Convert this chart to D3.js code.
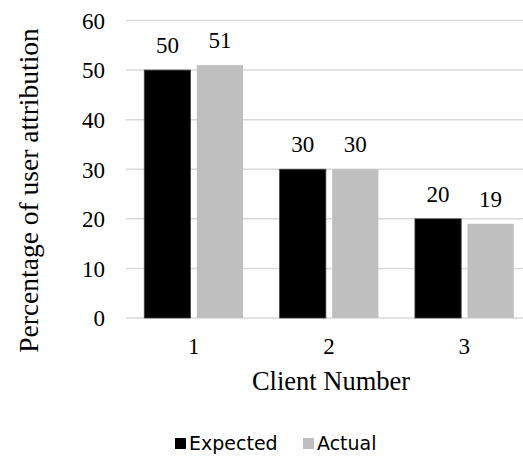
<!DOCTYPE html>
<html>
<head>
<meta charset="utf-8">
<script src="https://cdn.jsdelivr.net/npm/d3@7"></script>
<style>
  html, body { margin: 0; padding: 0; background: #fff; }
  svg { display: block; }
</style>
</head>
<body>
<svg id="chart" width="523" height="466"></svg>
<script>
const clients = ["1", "2", "3"];
const seriesNames = ["Expected", "Actual"];
const expected = [50, 30, 20];
const actual = [51, 30, 19];
const yTicks = [0, 10, 20, 30, 40, 50, 60];
const colors = ["#000000", "#bfbfbf"];

const svg = d3.select("#chart");
const margin = { left: 126, top: 20.5, right: -9, bottom: 148 };
const W = 523, H = 466;
const innerW = W - margin.left - margin.right;
const innerH = H - margin.top - margin.bottom;
const g = svg.append("g").attr("transform", `translate(${margin.left},${margin.top})`);

const x0 = d3.scaleBand().domain(clients).range([0, innerW]).paddingInner(0.27).paddingOuter(0.135);
const x1 = d3.scaleBand().domain(seriesNames).range([0, x0.bandwidth()]).paddingInner(0.12);
const y = d3.scaleLinear().domain([0, 60]).range([innerH, 0]);

const serif = "'Liberation Serif', 'Times New Roman', serif";

// gridlines
g.append("g").selectAll("line").data(yTicks).join("line")
  .attr("x1", 0).attr("x2", innerW)
  .attr("y1", d => y(d)).attr("y2", d => y(d))
  .attr("stroke", "#d9d9d9").attr("stroke-width", 1.5);

// y tick labels
const yAxis = g.append("g").call(d3.axisLeft(y).tickValues(yTicks).tickSize(0).tickPadding(21));
yAxis.select(".domain").remove();
yAxis.selectAll("text").attr("font-family", serif).attr("font-size", 23).attr("fill", "#000")
  .attr("dy", "0.34em");

// x tick labels
const xAxis = g.append("g").attr("transform", `translate(0,${innerH})`)
  .call(d3.axisBottom(x0).tickSize(0).tickPadding(20));
xAxis.select(".domain").remove();
xAxis.selectAll("text").attr("font-family", serif).attr("font-size", 23).attr("fill", "#000");

const rows = clients.map((c, i) => ({ client: c, values: [expected[i], actual[i]] }));

const groups = g.append("g").selectAll("g").data(rows).join("g")
  .attr("transform", d => `translate(${x0(d.client)},0)`);

groups.selectAll("rect").data(d => d.values.map((v, k) => ({ key: seriesNames[k], v, k }))).join("rect")
  .attr("x", d => x1(d.key))
  .attr("y", d => y(d.v))
  .attr("width", x1.bandwidth())
  .attr("height", d => y(0) - y(d.v))
  .attr("fill", d => colors[d.k])
  .attr("stroke", d => d.k === 0 ? "#404040" : "none")
  .attr("stroke-width", 0.8);

groups.selectAll("text").data(d => d.values.map((v, k) => ({ key: seriesNames[k], v, k }))).join("text")
  .attr("x", d => x1(d.key) + x1.bandwidth() / 2)
  .attr("y", d => y(d.v) - 17)
  .attr("text-anchor", "middle")
  .attr("font-family", serif).attr("font-size", 23).attr("fill", "#000")
  .text(d => d.v);

// axis titles
svg.append("text")
  .attr("x", 331).attr("y", 390)
  .attr("text-anchor", "middle")
  .attr("font-family", serif).attr("font-size", 26.5).attr("fill", "#000")
  .text("Client Number");

svg.append("text")
  .attr("transform", "translate(38,190.5) rotate(-90)")
  .attr("text-anchor", "middle")
  .attr("font-family", serif).attr("font-size", 27.5).attr("fill", "#000")
  .text("Percentage of user attribution");

// legend
const legend = svg.append("g").attr("transform", "translate(0,443)");
const legendX = [175, 303];
seriesNames.forEach((name, k) => {
  legend.append("rect").attr("x", legendX[k]).attr("y", -5).attr("width", 11).attr("height", 11).attr("fill", colors[k]);
  legend.append("text").attr("x", legendX[k] + 14).attr("y", 7)
    .attr("font-family", "'DejaVu Sans', Verdana, sans-serif").attr("font-size", 19).attr("fill", "#000")
    .text(name);
});
</script>
</body>
</html>
